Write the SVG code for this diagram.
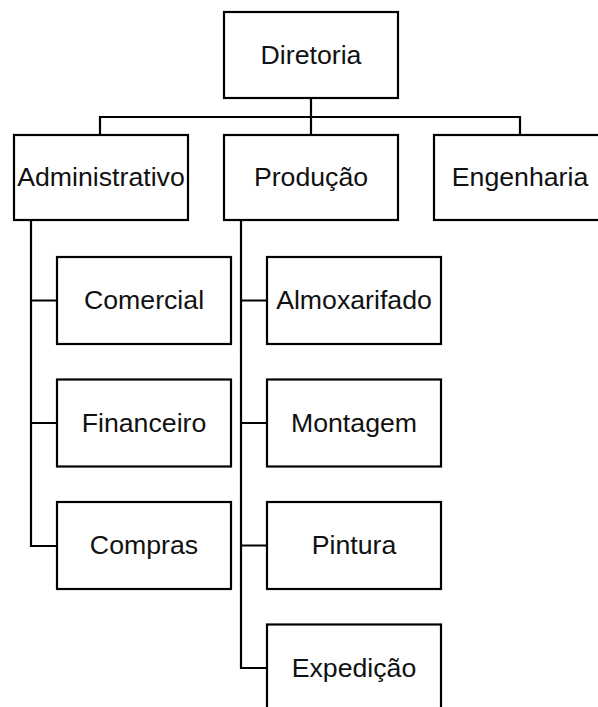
<svg xmlns="http://www.w3.org/2000/svg" width="598" height="707" viewBox="0 0 598 707">
<style>
.box{fill:#fff;stroke:#000;stroke-width:2.2}
.lbl{font-family:"Liberation Sans",Arial,sans-serif;font-size:26.7px;fill:#111;text-anchor:middle}
.con{fill:none;stroke:#000;stroke-width:2.2}
</style>
<rect width="598" height="707" fill="#fff"/>
<g id="connectors">
<path class="con" d="M311 98 V117 M100 135 V117 H520 V135 M311 117 V135"/>
<path class="con" d="M31 220 V546 H57 M31 300.5 H57 M31 423 H57"/>
<path class="con" d="M241 220 V668 H267 M241 300.5 H267 M241 423 H267 M241 545.5 H267"/>
</g>
<g id="diretoria"><rect class="box" x="224" y="12" width="174" height="86"/><text class="lbl" x="311" y="63.5">Diretoria</text></g>
<g id="administrativo"><rect class="box" x="14" y="135" width="174" height="85"/><text class="lbl" x="101" y="186">Administrativo</text></g>
<g id="producao"><rect class="box" x="224" y="135" width="174" height="85"/><text class="lbl" x="311" y="186">Produção</text></g>
<g id="engenharia"><rect class="box" x="434" y="135" width="174" height="85"/><text class="lbl" x="520" y="186">Engenharia</text></g>
<g id="comercial"><rect class="box" x="57" y="257" width="174" height="87"/><text class="lbl" x="144" y="309">Comercial</text></g>
<g id="financeiro"><rect class="box" x="57" y="379.5" width="174" height="87"/><text class="lbl" x="144" y="431.5">Financeiro</text></g>
<g id="compras"><rect class="box" x="57" y="502" width="174" height="87"/><text class="lbl" x="144" y="554">Compras</text></g>
<g id="almoxarifado"><rect class="box" x="267" y="257" width="174" height="87"/><text class="lbl" x="354" y="309">Almoxarifado</text></g>
<g id="montagem"><rect class="box" x="267" y="379.5" width="174" height="87"/><text class="lbl" x="354" y="431.5">Montagem</text></g>
<g id="pintura"><rect class="box" x="267" y="502" width="174" height="87"/><text class="lbl" x="354" y="554">Pintura</text></g>
<g id="expedicao"><rect class="box" x="267" y="624.5" width="174" height="87"/><text class="lbl" x="354" y="676.5">Expedição</text></g>
</svg>
